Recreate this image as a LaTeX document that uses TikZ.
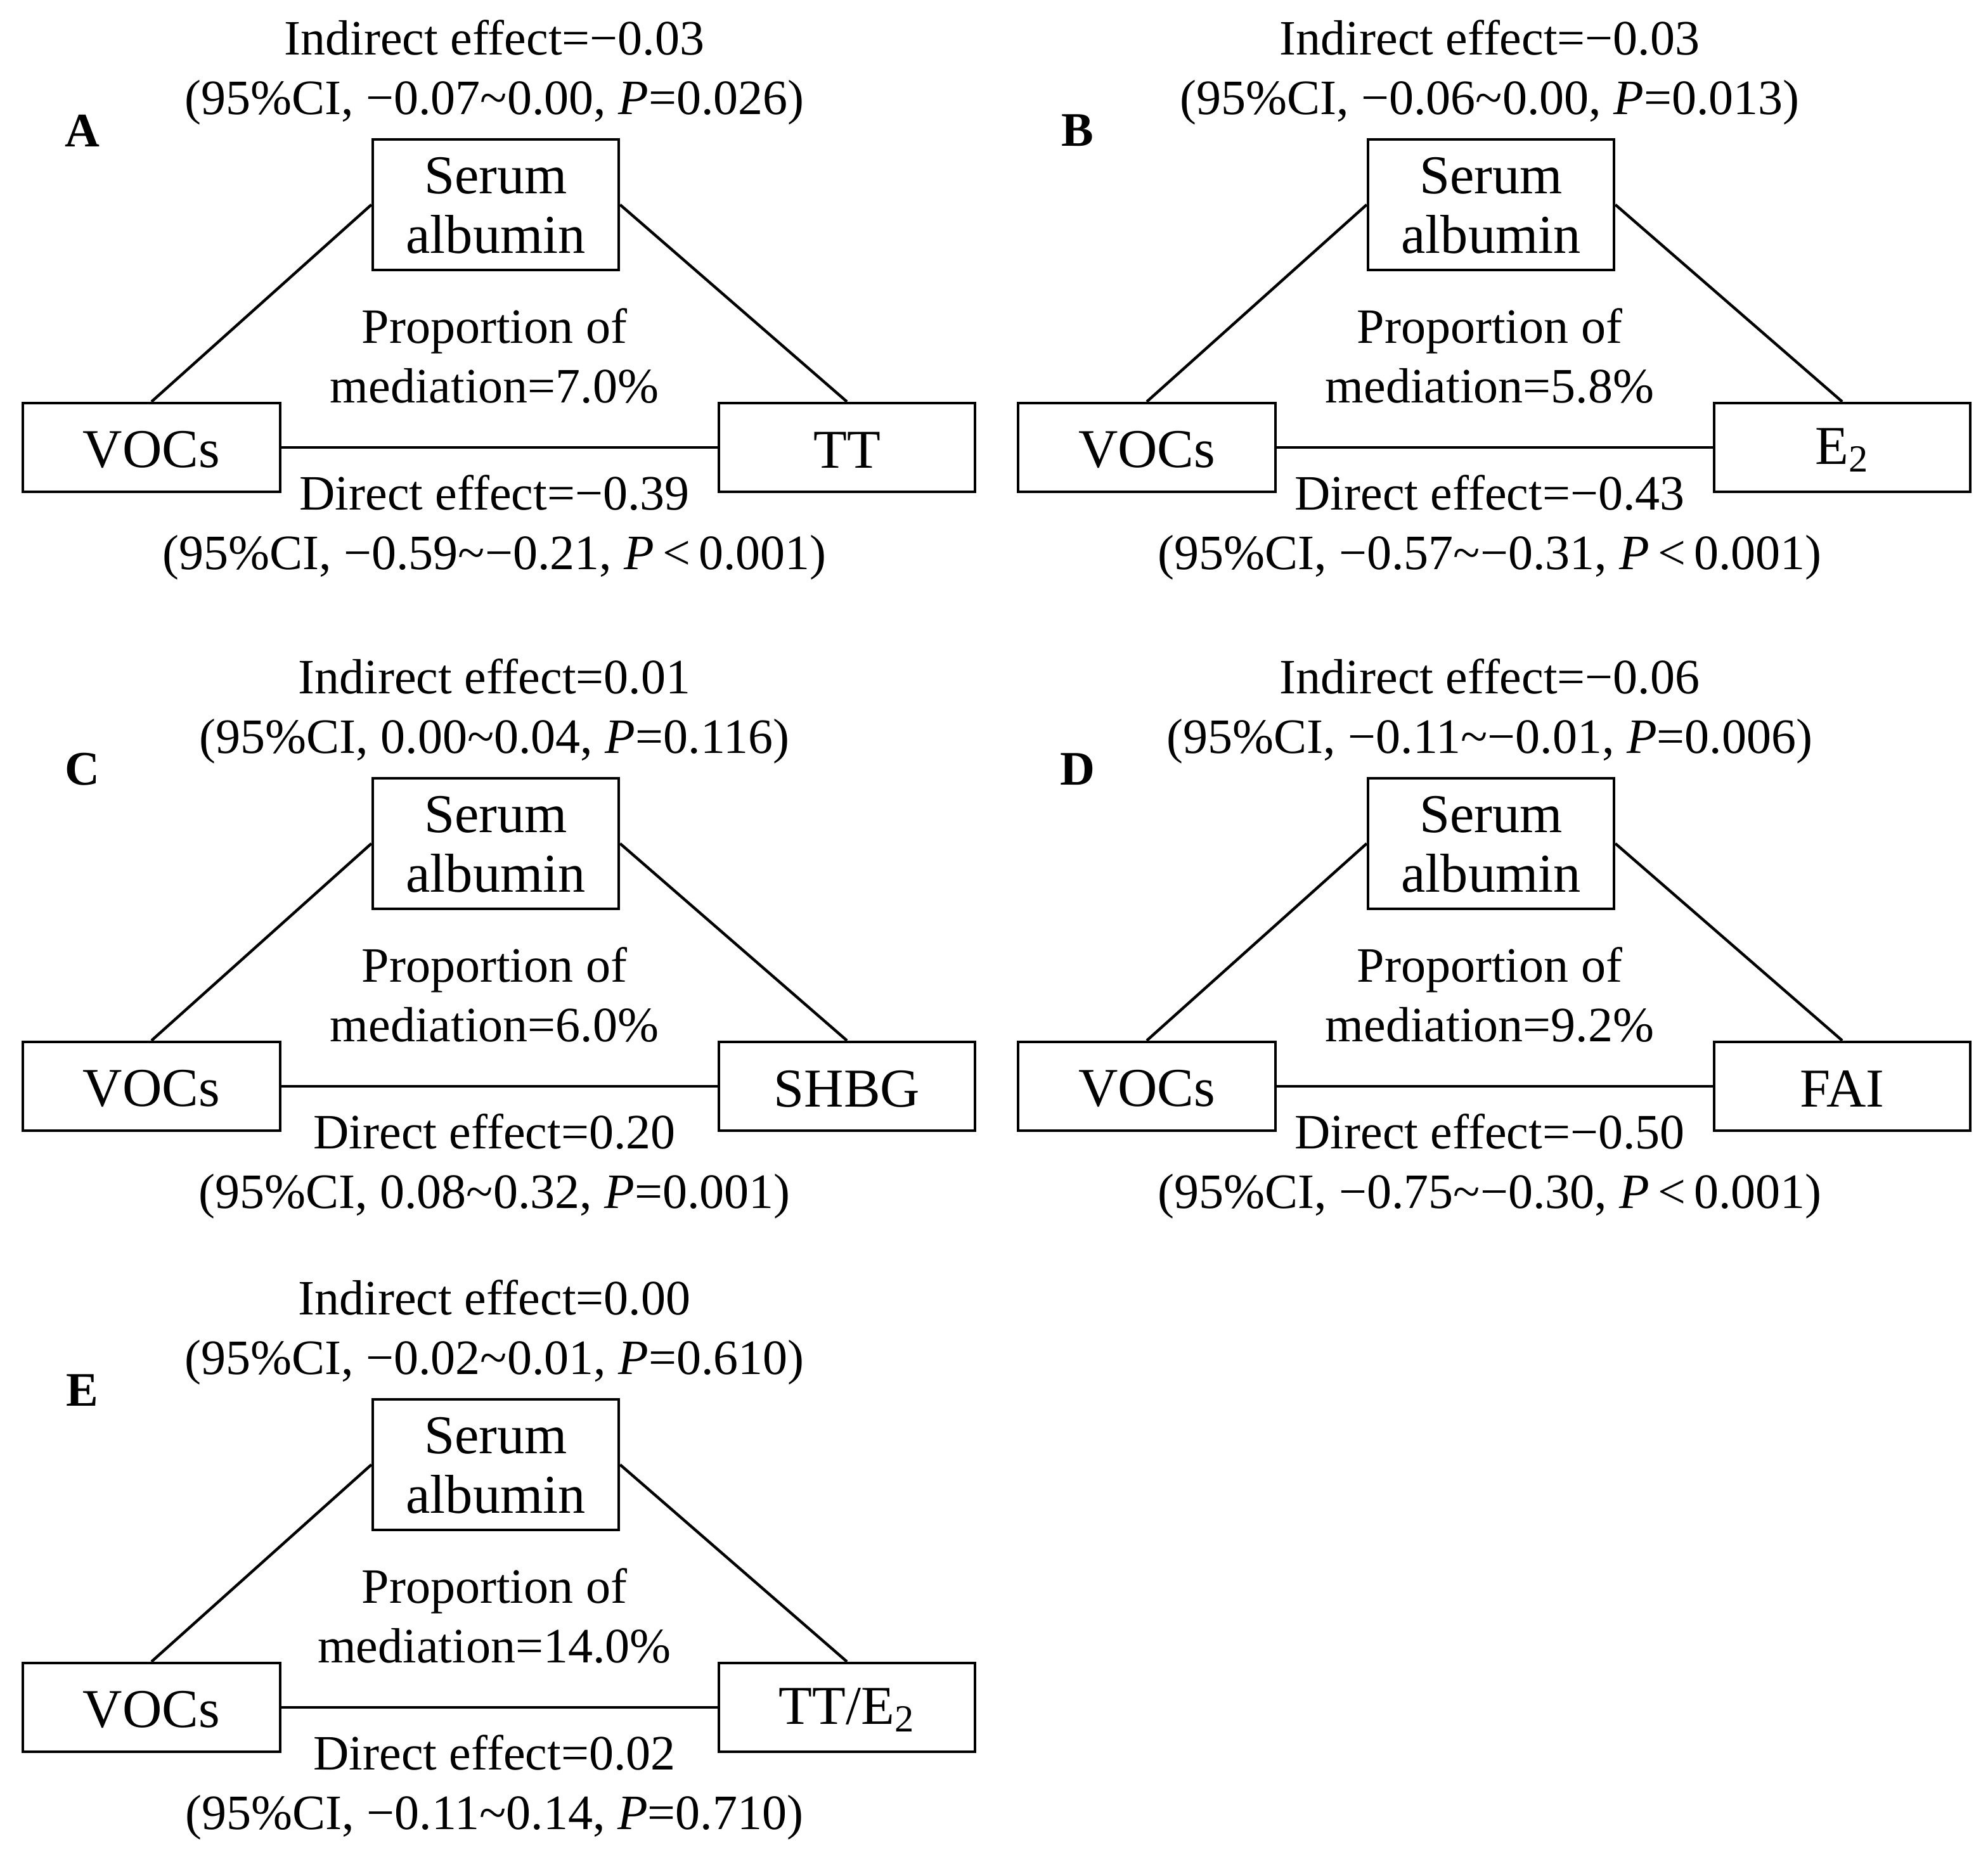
\documentclass[tikz,border=0pt]{standalone}
\usepackage{fontspec}
\setmainfont{Liberation Serif}
\begin{document}
\begin{tikzpicture}[x=0.5pt,y=-0.5pt,
  bx/.style={draw,line width=1.1pt,inner sep=0pt,align=center},
  ln/.style={line width=1.1pt},
  tx/.style={inner sep=0pt,align=center,font=\fontsize{19.5}{23.5}\selectfont},
  btx/.style={inner sep=0pt,align=center,font=\fontsize{21.6}{23.5}\selectfont},
  lab/.style={inner sep=0pt,font=\fontsize{19}{20}\selectfont\bfseries}]
\useasboundingbox (0,0) rectangle (1568,1474);
\newcommand\mypanel[9]{%
 \begin{scope}[shift={(#1,#2)}]
  \node[tx] (#3i) at (390,57) {#5\\#6};
  \node[lab] (#3l) at (65,103) {#3};
  \node[bx,minimum width=97pt,minimum height=51.5pt] (#3m) at (391,161.5) {};
  \node[btx] (#3mt) at (391,162) {Serum\\albumin};
  \node[bx,minimum width=101.5pt,minimum height=35pt] (#3x) at (119.5,353) {};
  \node[btx] at (119.5,355) {VOCs};
  \node[bx,minimum width=101pt,minimum height=35pt] (#3y) at (668,353) {};
  \node[btx] at (668,355) {#4};
  \node[tx] (#3p) at (390,281) {Proportion of\\mediation=#7};
  \node[tx] (#3d) at (390,416) {#8\\#9};
  \draw[ln] (#3x.north) -- (#3m.west);
  \draw[ln] (#3m.east) -- (#3y.north);
  \draw[ln] (#3x.east) -- (#3y.west);
 \end{scope}}
\newcommand\tl{\textasciitilde}
\mypanel{0}{0}{A}{TT}{Indirect effect=−0.03}{(95\%CI, −0.07\tl0.00, \textit{P}=0.026)}{7.0\%}{Direct effect=−0.39}{(95\%CI, −0.59\tl−0.21, \textit{P}\,<\,0.001)}
\mypanel{785}{0}{B}{E\textsubscript{2}}{Indirect effect=−0.03}{(95\%CI, −0.06\tl0.00, \textit{P}=0.013)}{5.8\%}{Direct effect=−0.43}{(95\%CI, −0.57\tl−0.31, \textit{P}\,<\,0.001)}
\mypanel{0}{504}{C}{SHBG}{Indirect effect=0.01}{(95\%CI, 0.00\tl0.04, \textit{P}=0.116)}{6.0\%}{Direct effect=0.20}{(95\%CI, 0.08\tl0.32, \textit{P}=0.001)}
\mypanel{785}{504}{D}{FAI}{Indirect effect=−0.06}{(95\%CI, −0.11\tl−0.01, \textit{P}=0.006)}{9.2\%}{Direct effect=−0.50}{(95\%CI, −0.75\tl−0.30, \textit{P}\,<\,0.001)}
\mypanel{0}{994}{E}{TT/E\textsubscript{2}}{Indirect effect=0.00}{(95\%CI, −0.02\tl0.01, \textit{P}=0.610)}{14.0\%}{Direct effect=0.02}{(95\%CI, −0.11\tl0.14, \textit{P}=0.710)}
\end{tikzpicture}
\end{document}
